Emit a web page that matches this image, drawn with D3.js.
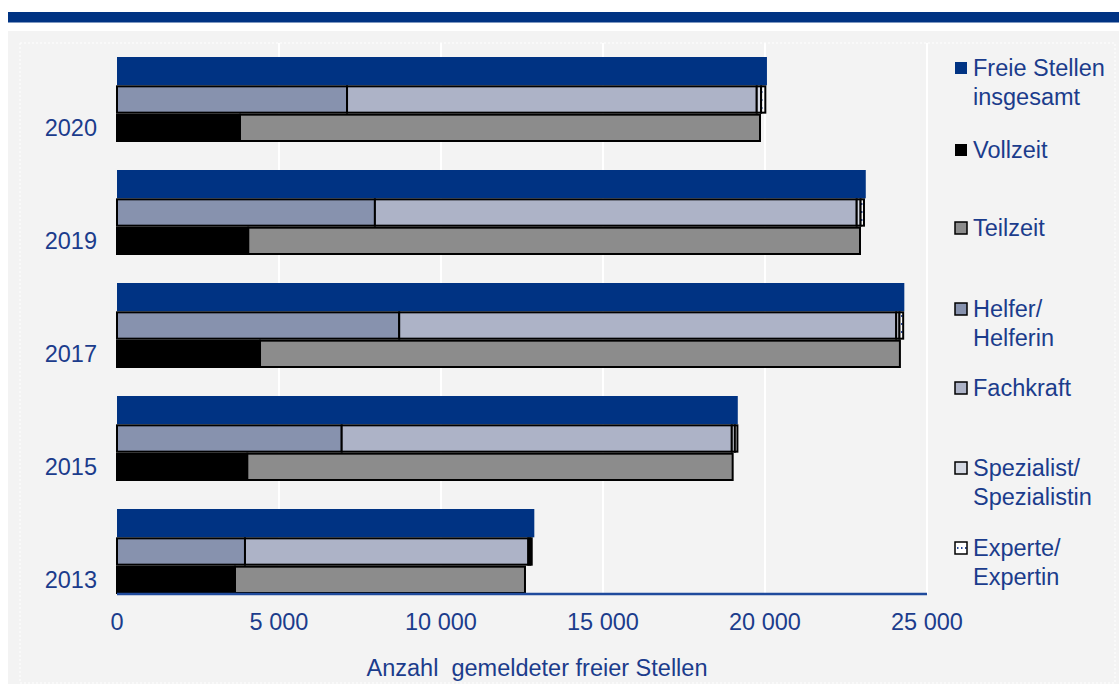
<!DOCTYPE html>
<html><head><meta charset="utf-8">
<script src="https://cdn.jsdelivr.net/npm/d3@7"></script>
<style>html,body{margin:0;padding:0;background:#fff;}svg{display:block;font-family:"Liberation Sans",Arial,sans-serif;}</style>
</head><body>
<svg id="c" width="1119" height="684"></svg>
<script>
const years = ["2020","2019","2017","2015","2013"];
const total = [20060, 23110, 24300, 19160, 12880];
const helfer = [7100, 7960, 8710, 6935, 3950];
const fachkraft = [12645, 14870, 15340, 12040, 8745];
const spezialist = [135, 120, 100, 95, 60];
const experte = [130, 105, 115, 78, 45];
const vollzeit = [3796, 4052, 4414, 4022, 3642];
const teilzeit = [16050, 18880, 19750, 14980, 8950];
const ticks = [0, 5000, 10000, 15000, 20000, 25000];
const tickLabels = ["0", "5 000", "10 000", "15 000", "20 000", "25 000"];
const legendItems = [
  {key:"total", lines:["Freie Stellen","insgesamt"]},
  {key:"vollzeit", lines:["Vollzeit"]},
  {key:"teilzeit", lines:["Teilzeit"]},
  {key:"helfer", lines:["Helfer/","Helferin"]},
  {key:"fachkraft", lines:["Fachkraft"]},
  {key:"spezialist", lines:["Spezialist/","Spezialistin"]},
  {key:"experte", lines:["Experte/","Expertin"]}
];
const legendY = [68, 150, 228, 309, 388, 468, 548];

const navy = "#003383", textCol = "#1b3c8c";
const colors = {total:navy, vollzeit:"#000000", teilzeit:"#8c8c8c", helfer:"#8792ae", fachkraft:"#adb3c7", spezialist:"#d5d9e3", experte:"url(#dots)"};

const svg = d3.select("#c");
const defs = svg.append("defs");
const pat = defs.append("pattern").attr("id","dots").attr("patternUnits","userSpaceOnUse").attr("width",4).attr("height",8);
pat.append("rect").attr("width",4).attr("height",8).attr("fill","#ffffff");
pat.append("rect").attr("x",1).attr("y",3).attr("width",1.5).attr("height",2).attr("fill","#2a4a9a");

// frame
svg.append("rect").attr("x",8).attr("y",12).attr("width",1111).attr("height",10.5).attr("fill",navy);
svg.append("rect").attr("x",8).attr("y",31).attr("width",1111).attr("height",653).attr("fill","#f3f3f3");
svg.append("rect").attr("x",20).attr("y",43).attr("width",1095).attr("height",640).attr("fill","none")
  .attr("stroke","#ffffff").attr("stroke-width",1).attr("stroke-dasharray","2,2");

const x = d3.scaleLinear().domain([0,25000]).range([117,927]);
const y = d3.scaleBand().domain(years).range([29,594]).padding(0);
const row = d3.scaleBand().domain(["total","qual","time"]).range([28, y.bandwidth()]).padding(0);

// gridlines
svg.append("g").selectAll("line").data(ticks.slice(1)).join("line")
  .attr("x1",d=>x(d)).attr("x2",d=>x(d)).attr("y1",43).attr("y2",594)
  .attr("stroke","#ffffff").attr("stroke-width",2);
svg.append("line").attr("x1",x(25000)).attr("x2",x(25000)).attr("y1",43).attr("y2",594)
  .attr("stroke","#ffffff").attr("stroke-width",1).attr("stroke-dasharray","2,2");

const g = svg.append("g");
years.forEach((yr,i)=>{
  const y0 = y(yr);
  g.append("rect").attr("x",x(0)).attr("y",y0+row("total")).attr("width",x(total[i])-x(0)).attr("height",row.bandwidth())
    .attr("fill",colors.total);
  const qual = [["helfer",helfer[i]],["fachkraft",fachkraft[i]],["spezialist",spezialist[i]],["experte",experte[i]]];
  let acc = 0;
  qual.forEach(([k,v])=>{
    g.append("rect").attr("x",x(acc)).attr("y",y0+row("qual")+1).attr("width",x(acc+v)-x(acc)).attr("height",row.bandwidth()-2)
      .attr("fill",colors[k]).attr("stroke","#000").attr("stroke-width",2);
    acc += v;
  });
  const tm = [["vollzeit",vollzeit[i]],["teilzeit",teilzeit[i]]];
  acc = 0;
  tm.forEach(([k,v])=>{
    g.append("rect").attr("x",x(acc)).attr("y",y0+row("time")+1).attr("width",x(acc+v)-x(acc)).attr("height",row.bandwidth()-2)
      .attr("fill",colors[k]).attr("stroke","#000").attr("stroke-width",2);
    acc += v;
  });
  svg.append("text").attr("x",97).attr("y",y0+row("time")+row.bandwidth()/2).attr("dy","0.35em")
    .attr("text-anchor","end").attr("font-size",23.5).attr("fill",textCol).text(yr);
});

// axis line
svg.append("line").attr("x1",x(0)).attr("x2",x(25000)).attr("y1",594).attr("y2",594).attr("stroke","#1f4a9c").attr("stroke-width",2.5);
svg.append("g").selectAll("text").data(ticks).join("text")
  .attr("x",d=>x(d)).attr("y",622).attr("dy","0.35em").attr("text-anchor","middle")
  .attr("font-size",23.5).attr("fill",textCol).text((d,i)=>tickLabels[i]);
svg.append("text").attr("x",537).attr("y",668).attr("dy","0.35em").attr("text-anchor","middle")
  .attr("font-size",23.5).attr("fill",textCol).attr("xml:space","preserve").text("Anzahl  gemeldeter freier Stellen");

// legend
const lg = svg.append("g");
legendItems.forEach((it,i)=>{
  const cy = legendY[i];
  const r = lg.append("rect").attr("x",955).attr("y",cy-6).attr("width",12).attr("height",12).attr("fill",colors[it.key]);
  if (it.key !== "total" && it.key !== "vollzeit") r.attr("stroke","#000").attr("stroke-width",1.5);
  it.lines.forEach((ln,j)=>{
    lg.append("text").attr("x",973).attr("y",cy+j*29).attr("dy","0.35em").attr("font-size",23.5).attr("fill",textCol).text(ln);
  });
});
</script>
</body></html>
